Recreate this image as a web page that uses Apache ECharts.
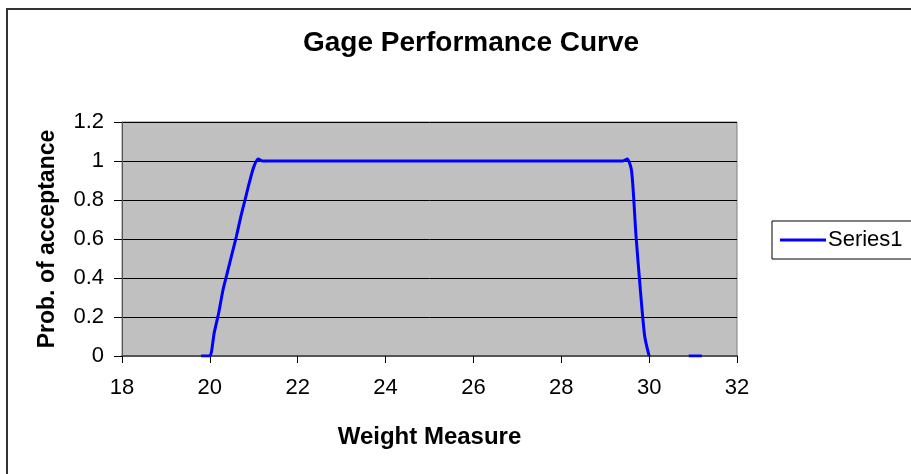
<!DOCTYPE html>
<html>
<head>
<meta charset="utf-8">
<script src="https://cdn.jsdelivr.net/npm/echarts@6/dist/echarts.min.js"></script>
<style>
    html, body { margin: 0; padding: 0; background: #fff; }
    #chart { width: 911px; height: 474px; }
</style>
</head>
<body>
<div id="chart"></div>
<script>
// weight measure (x) and probability of acceptance (y)
// null = gap in the curve
var weights = [19.8, 19.9, 20.0, 20.1, 20.2, 20.3, 20.4, 20.5, 20.6, 20.7, 20.8, 20.9, 21.0, 21.1, 21.2, 21.5, 22, 23, 24, 25, 26, 27, 28, 29, 29.3, 29.4, 29.5, 29.6, 29.7, 29.8, 29.9, 30.0, 30.5, 30.9, 31.0, 31.1, 31.2]
var probs = [0, 0, 0, 0.12, 0.22, 0.34, 0.43, 0.52, 0.61, 0.71, 0.8, 0.89, 0.97, 1.01, 1, 1, 1, 1, 1, 1, 1, 1, 1, 1, 1, 1, 1.01, 0.95, 0.62, 0.34, 0.1, 0, null, 0, 0, 0, 0]
var yTicks = [0, 0.2, 0.4, 0.6, 0.8, 1, 1.2]
var seriesName = 'Series1'

var font = '"Liberation Sans", Arial, sans-serif'

var myChart = echarts.init(document.getElementById('chart'))

var points = weights.map(function(w, i) {
    return [w, probs[i] === null ? '-' : probs[i]]
})

var option = {
    backgroundColor: '#fff',
    animation: false,
    title: {
        text: 'Gage Performance Curve',
        left: 298,
        top: 24,
        textStyle: {
            fontFamily: font,
            fontSize: 28,
            fontWeight: 'bold',
            color: '#000',
        },
    },
    legend: {
        left: 772,
        top: 221,
        padding: [8, 30, 8, 8],
        borderColor: '#000',
        borderWidth: 1,
        backgroundColor: '#fff',
        icon: 'rect',
        itemWidth: 46,
        itemHeight: 3,
        textStyle: {
            fontFamily: font,
            fontSize: 22,
            color: '#000',
            padding: [0, 0, 0, -3],
        },
        data: [seriesName],
    },
    grid: {
        left: 122,
        right: 174,
        top: 122,
        bottom: 118,
        show: true,
        backgroundColor: '#c0c0c0',
        borderColor: '#808080',
        borderWidth: 1,
    },
    xAxis: {
        type: 'value',
        min: 18,
        max: 32,
        interval: 2,
        name: 'Weight Measure',
        nameLocation: 'middle',
        nameGap: 69,
        nameTextStyle: {
            fontFamily: font,
            fontSize: 24,
            fontWeight: 'bold',
            color: '#000',
        },
        axisLine: { show: true, onZero: false, lineStyle: { color: '#555', width: 2 } },
        axisTick: { show: true, inside: false, length: 7, lineStyle: { color: '#000' } },
        axisLabel: {
            margin: 21,
            fontFamily: font,
            fontSize: 22,
            color: '#000',
        },
        splitLine: { show: false },
    },
    yAxis: {
        type: 'value',
        min: 0,
        max: 1.2,
        interval: 0.2,
        name: 'Prob. of acceptance',
        nameLocation: 'middle',
        nameGap: 63,
        nameTextStyle: {
            fontFamily: font,
            fontSize: 23,
            fontWeight: 'bold',
            color: '#000',
        },
        axisLine: { show: true, lineStyle: { color: '#555', width: 1 } },
        axisTick: { show: true, inside: false, length: 8, lineStyle: { color: '#000' } },
        axisLabel: {
            margin: 18,
            fontFamily: font,
            fontSize: 22,
            color: '#000',
            formatter: function(v) {
                // snap to tick list so no float noise shows
                var t = yTicks.reduce(function(a, b) {
                    return Math.abs(b - v) < Math.abs(a - v) ? b : a
                })
                return String(t)
            },
        },
        splitLine: { show: true, lineStyle: { color: '#000', width: 1 } },
    },
    graphic: [
        {
            type: 'rect',
            shape: { x: 7, y: 9, width: 1000, height: 1000 },
            style: { fill: 'none', stroke: '#333', lineWidth: 2 },
            z: 100,
            silent: true,
        },
    ],
    series: [
        {
            name: seriesName,
            type: 'line',
            data: points,
            smooth: 0.25,
            connectNulls: false,
            showSymbol: false,
            symbol: 'none',
            color: '#0000ff',
            lineStyle: { color: '#0000ff', width: 3 },
        },
    ],
}

myChart.setOption(option)
</script>
</body>
</html>
